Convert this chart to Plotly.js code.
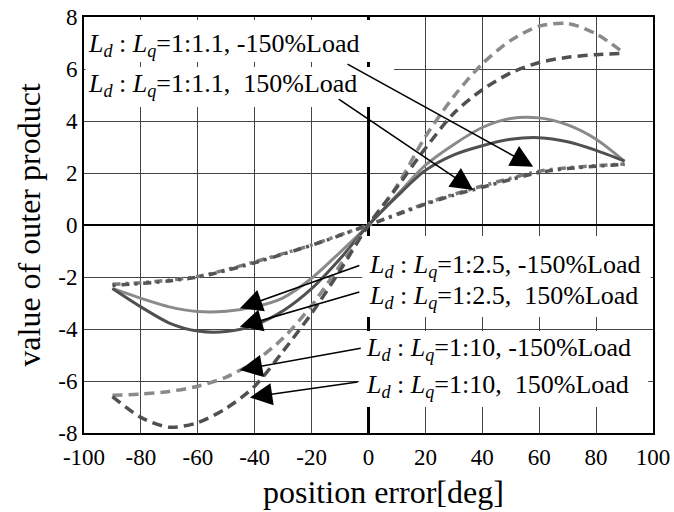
<!DOCTYPE html>
<html>
<head>
<meta charset="utf-8">
<script src="https://cdn.plot.ly/plotly-3.0.1.min.js"></script>
<style>html,body{margin:0;padding:0;background:#fff;}</style>
</head>
<body>
<div id="chart" style="width:674px;height:512px;"></div>
<script>
// position error [deg]
var posErr = [-90,-80,-70,-60,-50,-40,-30,-20,-10,0,10,20,30,40,50,60,70,80,90];
// Ld:Lq = 1:10
var r10Minus = [-6.55,-6.5,-6.4,-6.2,-5.85,-5.25,-4.35,-3.1,-1.55,0,1.5,3.4,4.95,6.2,7.1,7.65,7.75,7.35,6.6];
var r10Plus  = [-6.6,-7.4,-7.78,-7.6,-7.05,-6.2,-4.85,-3.4,-1.75,0,1.45,2.95,4.3,5.2,5.85,6.25,6.45,6.55,6.6];
// Ld:Lq = 1:2.5
var r25Minus = [-2.44,-2.82,-3.15,-3.33,-3.32,-3.15,-2.8,-2.05,-1.05,0,1.15,2.3,3.1,3.75,4.1,4.12,3.85,3.3,2.45];
var r25Plus  = [-2.44,-3.15,-3.77,-4.08,-4.1,-3.85,-3.3,-2.45,-1.3,0,1.1,2.1,2.7,3.05,3.3,3.36,3.2,2.87,2.46];
// Ld:Lq = 1:1.1
var r11Minus = [-2.28,-2.22,-2.12,-1.98,-1.72,-1.42,-1.1,-0.77,-0.38,0,0.42,0.83,1.18,1.5,1.8,2.07,2.2,2.28,2.35];
var r11Plus  = [-2.32,-2.25,-2.15,-2.0,-1.75,-1.45,-1.12,-0.78,-0.4,0,0.4,0.8,1.15,1.45,1.75,2.02,2.17,2.26,2.33];

var xTickVals = [-100,-80,-60,-40,-20,0,20,40,60,80,100];
var xTickText = ["-100","-80","-60","-40","-20","0","20","40","60","80","100"];
var yTickVals = [-8,-6,-4,-2,0,2,4,6,8];
var yTickText = ["-8","-6","-4","-2","0","2","4","6","8"];

var xTitle = "position error[deg]";
var yTitle = "value of outer product";

var labels = [
  "<i>L</i><sub><i>d</i></sub> : <i>L</i><sub><i>q</i></sub>=1:1.1, -150%Load",
  "<i>L</i><sub><i>d</i></sub> : <i>L</i><sub><i>q</i></sub>=1:1.1,\u00a0 150%Load",
  "<i>L</i><sub><i>d</i></sub> : <i>L</i><sub><i>q</i></sub>=1:2.5, -150%Load",
  "<i>L</i><sub><i>d</i></sub> : <i>L</i><sub><i>q</i></sub>=1:2.5,\u00a0 150%Load",
  "<i>L</i><sub><i>d</i></sub> : <i>L</i><sub><i>q</i></sub>=1:10, -150%Load",
  "<i>L</i><sub><i>d</i></sub> : <i>L</i><sub><i>q</i></sub>=1:10,\u00a0 150%Load"
];

var LIGHT = "#8a8a8a", DARK = "#505050";
var serif = "Liberation Serif, Times New Roman, serif";

function tr(y, color, dash, width) {
  return {x: posErr, y: y, mode: "lines", type: "scatter",
    line: {color: color, dash: dash, width: width, shape: "spline", smoothing: 0.8},
    hoverinfo: "skip", showlegend: false};
}

var data = [
  tr(r11Minus, "#7a7a7a", "8px,5px,3px,5px", 3.5),
  tr(r11Plus, "#555555", "3px,6px,8px,5px", 3.5),
  tr(r25Minus, LIGHT, "solid", 3),
  tr(r25Plus, DARK, "solid", 3),
  tr(r10Minus, LIGHT, "10px,6px", 3.5),
  tr(r10Plus, DARK, "10px,6px", 3.5)
];

function box(x0, x1, y0, y1) {
  return {type: "rect", xref: "x", yref: "y", x0: x0, x1: x1, y0: y0, y1: y1,
    fillcolor: "#ffffff", line: {width: 0}, layer: "between"};
}

function label(t, x, y) {
  return {text: t, x: x, y: y, xref: "x", yref: "y", xanchor: "left", yanchor: "middle",
    showarrow: false, font: {family: serif, size: 26, color: "#000"}};
}
function arrow(x, y, ax, ay) {
  return {text: "", x: x, y: y, ax: ax, ay: ay, xref: "x", yref: "y", axref: "x", ayref: "y",
    showarrow: true, arrowhead: 2, arrowsize: 2.8, arrowwidth: 1.6, arrowcolor: "#000", standoff: 0};
}

var layout = {
  width: 674, height: 512,
  margin: {l: 84, r: 21, t: 17, b: 79},
  paper_bgcolor: "#fff", plot_bgcolor: "#fff",
  showlegend: false,
  font: {family: serif, color: "#000"},
  xaxis: {
    range: [-100, 100], tickmode: "array", tickvals: xTickVals, ticktext: xTickText,
    showgrid: true, gridcolor: "#444", gridwidth: 1,
    zeroline: true, zerolinecolor: "#000", zerolinewidth: 2.5,
    showline: true, linecolor: "#000", linewidth: 2, mirror: true, ticks: "",
    ticklabelstandoff: 2,
    tickfont: {family: serif, size: 23, color: "#000"},
    automargin: false
  },
  yaxis: {
    range: [-8, 8], tickmode: "array", tickvals: yTickVals, ticktext: yTickText,
    showgrid: true, gridcolor: "#444", gridwidth: 1,
    zeroline: true, zerolinecolor: "#000", zerolinewidth: 2.5,
    showline: true, linecolor: "#000", linewidth: 2, mirror: true, ticks: "",
    tickfont: {family: serif, size: 23, color: "#000"},
    title: {text: yTitle, font: {family: serif, size: 32, color: "#000"}, standoff: 8},
    automargin: false
  },
  shapes: [
    box(-99.5, 9.0, 6.27, 7.88),
    box(-99.5, 9.0, 4.54, 6.08),
    box(-2.2, 99.2, -3.54, -0.42),
    box(-3.3, 98.3, -7.0, -4.08)
  ],
  annotations: [
    {text: xTitle, xref: "paper", yref: "paper", x: 0.5255, y: -0.142, xanchor: "center", yanchor: "middle",
      showarrow: false, font: {family: serif, size: 32, color: "#000"}},
    label(labels[0], -99.2, 6.92),
    label(labels[1], -99.2, 5.38),
    label(labels[2], -0.5, -1.58),
    label(labels[3], -0.5, -2.77),
    label(labels[4], -1.5, -4.77),
    label(labels[5], -1.5, -6.19),
    arrow(57.9, 2.24, -7.9, 6.22),
    arrow(36.8, 1.35, -11, 4.88),
    arrow(-45.2, -3.2, -2.7, -1.54),
    arrow(-45.2, -3.91, -2.7, -2.56),
    arrow(-45.2, -5.58, -2.2, -4.73),
    arrow(-41.7, -6.63, -3.3, -6.03)
  ]
};

Plotly.newPlot("chart", data, layout, {staticPlot: true, displayModeBar: false});
</script>
</body>
</html>
